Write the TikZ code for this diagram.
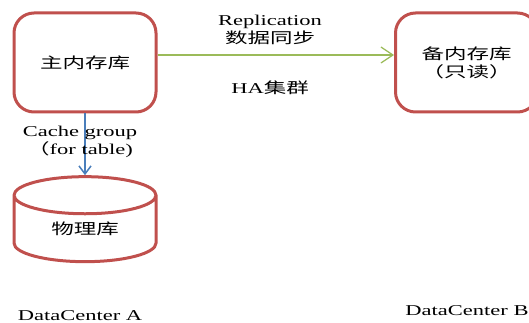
\documentclass[tikz,border=0pt]{standalone}
\usepackage{fontspec}
\setmainfont{Liberation Serif}[FakeStretch=1.5]
\newfontfamily\cjk{Noto Sans CJK SC}[FakeStretch=1.5]
\usetikzlibrary{arrows.meta,shapes.geometric}
\definecolor{dbred}{HTML}{C0504D}
\definecolor{replgreen}{HTML}{9BBB59}
\definecolor{cacheblue}{HTML}{4A7EBB}
\tikzset{
  dbbox/.style={draw=dbred, line width=3pt, rounded corners=20pt, minimum width=142pt, minimum height=99pt, align=center, font=\fontsize{15}{18}\selectfont},
  dbdisk/.style={draw=dbred, line width=3pt, cylinder, shape border rotate=90, aspect=0.5, minimum width=142pt, minimum height=85pt, font=\fontsize{15}{18}\selectfont},
  lbl/.style={align=center, inner sep=0pt, font=\fontsize{15}{18}\selectfont}
}

\begin{document}
\begin{tikzpicture}[x=1pt, y=-1pt]
		%%%%% START %%%%%
		\useasboundingbox (0, 0) rectangle (529, 323);

		\node[dbbox] (master) at (85, 62.5) {\cjk 主内存库};
		\node[dbbox] (standby) at (466.5, 62.5) {\cjk 备内存库\\\cjk （只读）};
		\node[dbdisk] (disk) at (85, 232) {\cjk\raisebox{7pt}{物理库}};

		\draw[line width=1.2pt, color=replgreen, -{Straight Barb[length=12pt, width=16pt]}] ([yshift=7.5pt]master.east) -- ([yshift=7.5pt]standby.west);
		\draw[line width=1.5pt, color=cacheblue, -{Straight Barb[length=8pt, width=12pt]}] (master.south) -- (disk.north);

		\node[lbl] (repl) at (270, 30) {Replication\\{\cjk 数据同步}};
		\node[lbl] (ha) at (270, 88) {HA{\cjk 集群}};
		\node[lbl] (cache) at (80, 142) {Cache group\\{\cjk （}for table)};

		\node[lbl] (dca) at (80, 316) {DataCenter A};
		\node[lbl] (dcb) at (467, 311) {DataCenter B};
		%%%%% END %%%%%
	\end{tikzpicture}
\end{document}
